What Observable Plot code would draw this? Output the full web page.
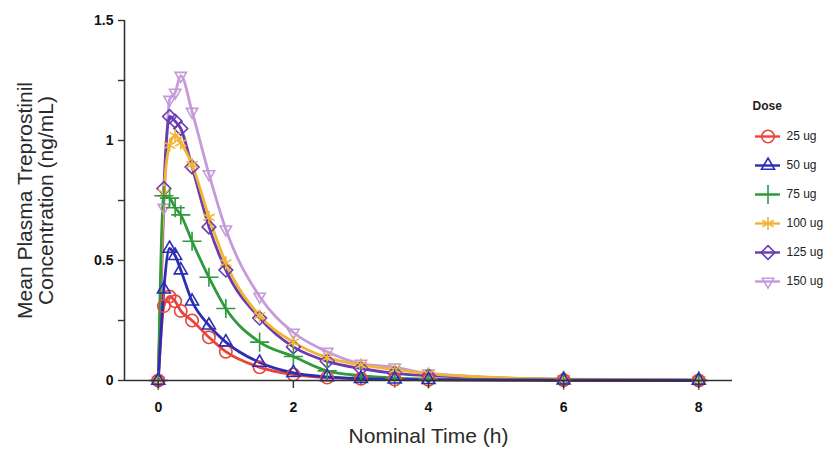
<!DOCTYPE html>
<html>
<head>
<meta charset="utf-8">
<script src="https://cdn.jsdelivr.net/npm/d3@7"></script>
<script src="https://cdn.jsdelivr.net/npm/@observablehq/plot@0.6"></script>
<style>
  body { margin: 0; background: #fff; }
  #wrap { position: relative; width: 832px; height: 458px; font-family: "Liberation Sans", Arial, sans-serif; }
  #legend { position: absolute; left: 746px; top: 92px; }
</style>
</head>
<body>
<div id="wrap"><div id="main"></div><div id="legend"></div></div>
<script>
// ---- data ----
const times = [0, 0.083, 0.167, 0.25, 0.333, 0.5, 0.75, 1, 1.5, 2, 2.5, 3, 3.5, 4, 6, 8];
const doses = ["25 ug", "50 ug", "75 ug", "100 ug", "125 ug", "150 ug"];
const conc25  = [0, 0.31, 0.35, 0.33, 0.29, 0.25, 0.18, 0.12, 0.055, 0.025, 0.012, 0.007, 0.004, 0.003, 0.001, 0];
const conc50  = [0, 0.38, 0.55, 0.52, 0.46, 0.33, 0.23, 0.16, 0.075, 0.032, 0.015, 0.008, 0.005, 0.003, 0.001, 0];
const conc75  = [0, 0.77, 0.76, 0.72, 0.69, 0.58, 0.43, 0.30, 0.16, 0.10, 0.04, 0.02, 0.01, 0.006, 0.001, 0];
const conc100 = [0, 0.78, 0.98, 1.02, 0.99, 0.90, 0.68, 0.49, 0.27, 0.16, 0.095, 0.065, 0.045, 0.028, 0.006, 0.002];
const conc125 = [0, 0.80, 1.10, 1.08, 1.05, 0.89, 0.64, 0.46, 0.26, 0.14, 0.08, 0.05, 0.03, 0.02, 0.005, 0.002];
const conc150 = [0, 0.72, 1.17, 1.20, 1.27, 1.12, 0.86, 0.63, 0.35, 0.20, 0.12, 0.07, 0.055, 0.03, 0.005, 0.002];
const colors  = ["#e8453c", "#2d2db4", "#2e9a3c", "#f2b435", "#6a3cb2", "#c59ad9"];
const yTicks = [0, 0.5, 1, 1.5];
const yMinor = [0.25, 0.75, 1.25];
const xTicks = [0, 2, 4, 6, 8];

// custom downward triangle symbol (stroke)
const triangleDown = {
  draw(context, size) {
    const t = Math.sqrt(size / 0.93);
    const h = t * 0.866;
    context.moveTo(0, h * 0.6667);
    context.lineTo(t / 2, -h * 0.3333);
    context.lineTo(-t / 2, -h * 0.3333);
    context.closePath();
  }
};
const symbols = ["circle", "triangle2", "plus", "asterisk", "diamond2", triangleDown];

const series = [conc25, conc50, conc75, conc100, conc125, conc150];
const drawOrder = [5, 4, 3, 2, 0, 1];
const rows = [];
for (const i of drawOrder) {
  times.forEach((t, j) => rows.push({dose: doses[i], time: t, conc: series[i][j]}));
}

const font = "Liberation Sans, Arial, sans-serif";

const main = Plot.plot({
  width: 740,
  height: 458,
  marginLeft: 124,
  marginRight: 8,
  marginTop: 20,
  marginBottom: 78,
  style: {fontFamily: font, background: "transparent"},
  x: {domain: [-0.5, 8.5]},
  y: {domain: [0, 1.5]},
  color: {domain: doses, range: colors},
  symbol: {domain: doses, range: symbols},
  marks: [
    Plot.lineY(rows, {x: "time", y: "conc", z: "dose", stroke: "dose", strokeWidth: 2.8, curve: "monotone-x"}),
    Plot.dot(rows, {x: "time", y: "conc", stroke: "dose", symbol: "dose", r: 6.2, strokeWidth: 1.6, fill: "none"}),
    Plot.ruleY([0], {stroke: "#333", strokeWidth: 1.6}),
    Plot.ruleX([-0.5], {y1: 0, y2: 1.5, stroke: "#333", strokeWidth: 1.6}),
    Plot.axisY(yMinor, {tickSize: 6, tickFormat: () => "", stroke: "#333", strokeWidth: 1.4, label: null}),
    Plot.axisY(yTicks, {anchor: "left", tickSize: 6, tickPadding: 5, tickFormat: d => String(d), stroke: "#333", strokeWidth: 1.4, fontSize: 14, fontWeight: "bold", fill: "#111", label: null}),
    Plot.axisX(xTicks, {tickSize: 8, tickPadding: 14, tickFormat: d => String(d), stroke: "#333", strokeWidth: 1.4, fontSize: 14, fontWeight: "bold", fill: "#111", label: null}),
    Plot.text(["Nominal Time (h)"], {frameAnchor: "bottom", dy: 62, fontSize: 21, fill: "#2a2a2a", text: d => d}),
    Plot.text(["Mean Plasma Treprostinil\nConcentration (ng/mL)"], {frameAnchor: "left", textAnchor: "middle", dx: -89, rotate: -90, fontSize: 21, lineHeight: 1.02, fill: "#2a2a2a", text: d => d})
  ]
});
document.getElementById("main").appendChild(main);

// ---- legend ----
const legend = Plot.plot({
  width: 86,
  height: 210,
  margin: 0,
  style: {fontFamily: font, background: "transparent"},
  x: {domain: [0, 1], range: [9, 34], axis: null},
  y: {type: "point", domain: doses, range: [44, 189], padding: 0, axis: null},
  color: {domain: doses, range: colors},
  symbol: {domain: doses, range: symbols},
  marks: [
    Plot.ruleY(doses, {y: d => d, x1: 0, x2: 1, stroke: d => d, strokeWidth: 2.4}),
    Plot.dot(doses, {x: 0.5, y: d => d, stroke: d => d, symbol: d => d, r: 6.2, strokeWidth: 1.6, fill: "none"}),
    Plot.text(doses, {x: 1, y: d => d, dx: 6, textAnchor: "start", fontSize: 12, fill: "#222", text: d => d}),
    Plot.text(["Dose"], {frameAnchor: "top-left", dx: 6, dy: 9, fontSize: 12, fontWeight: "bold", fill: "#222", text: d => d})
  ]
});
document.getElementById("legend").appendChild(legend);
</script>
</body>
</html>
